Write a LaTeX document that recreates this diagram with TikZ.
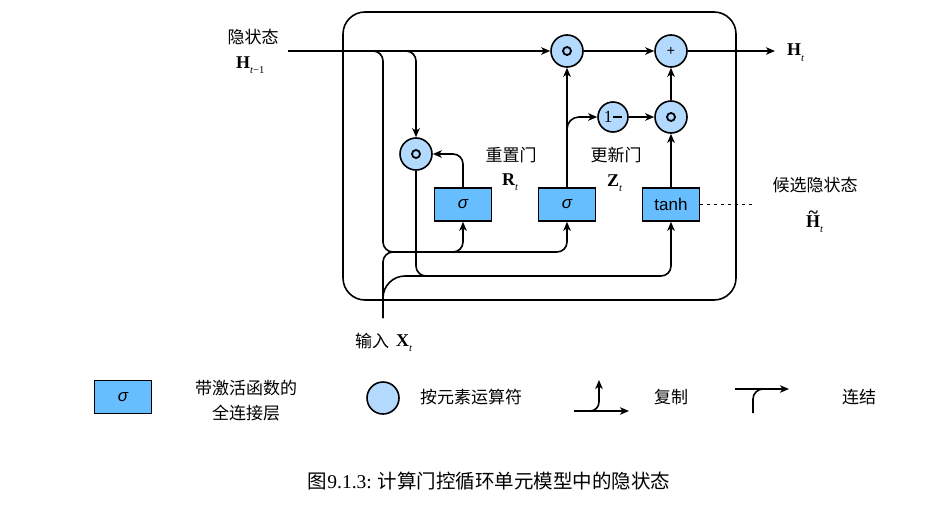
\documentclass[tikz,border=0pt]{standalone}
\usepackage{fontspec}
\setmainfont{Liberation Serif}
\newfontfamily\cjk{Noto Sans CJK SC}
\newfontfamily\tms{Liberation Serif}
\newfontfamily\lsans{Liberation Sans}
\usetikzlibrary{arrows.meta}
\definecolor{gatefill}{RGB}{102,190,255}
\definecolor{opfill}{RGB}{179,217,255}
\newcommand\bsym[2]{{\tms\bfseries #1}\raisebox{-0.3em}{\tms\fontsize{10.5}{10.5}\selectfont #2}}
\begin{document}
\begin{tikzpicture}[x=1pt,y=-1pt,
  conn/.style={line width=1.6pt},
  arr/.style={-{Stealth[length=9pt,width=7.5pt,inset=2.5pt]}},
  rc/.style={rounded corners=10pt},
  gate/.style={draw, line width=1.6pt, fill=gatefill, minimum width=57pt, minimum height=33pt, inner sep=0pt, font=\lsans\fontsize{17}{20}\selectfont},
  op/.style={circle, draw, line width=1.6pt, fill=opfill, minimum size=32pt, inner sep=0pt},
  odot/.style={op, path picture={\draw[line width=1.8pt] (path picture bounding box.center) circle (4.0pt); \fill (path picture bounding box.center) circle (1.7pt);}},
  lbl/.style={font=\cjk\fontsize{17}{25}\selectfont, inner sep=0pt},
  mth/.style={font=\fontsize{18}{20}\selectfont, inner sep=0pt},
]
\useasboundingbox (0,0) rectangle (941,511);

% frame
\draw[line width=1.6pt, rounded corners=22pt] (343,12) rectangle (736,300);

% operators and gates
\node[odot] (m1) at (567,51) {};
\node[op] (plus) at (671,51) {\lsans\fontsize{14}{14}\selectfont +};
\node[odot] (odotR) at (416,154) {};
\node[op, minimum size=30pt] (onem) at (613,117) {{\tms\fontsize{17}{17}\selectfont 1}\kern0.5pt\rule[4.6pt]{9.5pt}{2.4pt}};
\node[odot] (odot2) at (671,117) {};
\node[gate] (s1) at (463,204.5) {\itshape σ};
\node[gate] (s2) at (567,204.5) {\itshape σ};
\node[gate] (th) at (671,204.5) {tanh};

% helper coordinates
\coordinate (hin) at (288,51);
\coordinate (hout) at (775,51);
\coordinate (xin) at (383,318);
\coordinate (row1) at (383,252);
\coordinate (row1b) at (430,252);
\coordinate (row2b) at (500,276);
\coordinate (dotend) at (752,204.5);

% connectors
\draw[conn,arr] (hin) -- (m1);
\draw[conn,rc,arr] (hin) -| (row1) -| (s1.south);
\draw[conn,rc,arr] (row1b) -| (s2.south);
\draw[conn,rc] (xin) |- (row1b);
\draw[conn,rc,arr] (hin) -| (odotR.north);
\draw[conn,rc,arr] (odotR.south) |- (row2b) -| (th.south);
\draw[conn,rounded corners=22pt] (xin) |- (row2b);
\draw[conn,rc,arr] (s1.north) |- (odotR.east);
\draw[conn,arr] (s2.north) -- (m1.south);
\draw[conn,rounded corners=12pt,arr] (s2.north) |- (onem.west);
\draw[conn,arr] (onem.east) -- (odot2.west);
\draw[conn,arr] (th.north) -- (odot2.south);
\draw[conn,arr] (odot2.north) -- (plus.south);
\draw[conn,arr] (m1.east) -- (plus.west);
\draw[conn,arr] (plus.east) -- (hout);
\draw[line width=1.5pt, dash pattern=on 3pt off 4pt] (th.east) -- (dotend);

% labels
\node[lbl] (lh) at (253,37) {隐状态};
\node[mth, anchor=base west] (lhs) at (236,68) {\bsym{H}{\itshape t\upshape −1}};
\node[mth, anchor=base west] (lht) at (787,56) {\bsym{H}{\itshape t}};
\node[lbl] (lr) at (511,155) {重置门};
\node[mth, anchor=base west] (lrs) at (502,185) {\bsym{R}{\itshape t}};
\node[lbl] (lz) at (616,155) {更新门};
\node[mth, anchor=base west] (lzs) at (607,186) {\bsym{Z}{\itshape t}};
\node[lbl] (lc) at (815,185) {候选隐状态};
\node[mth, anchor=base west] (lcs) at (806,227) {{\tms\bfseries\ooalign{H\cr\hidewidth\raisebox{0.47em}{\textasciitilde}\hidewidth\cr}}\raisebox{-0.3em}{\tms\fontsize{10.5}{10.5}\selectfont\itshape t}};
\node[lbl] (lx) at (372,341) {输入};
\node[mth, anchor=base west] (lxs) at (396,346) {\bsym{X}{\itshape t}};

% legend
\node[gate] (lg1) at (123,397) {\itshape σ};
\node[lbl, align=center] (lt1) at (246,400.5) {带激活函数的\\全连接层};
\node[op] (lg2) at (383,398) {};
\node[lbl] (lt2) at (471,397) {按元素运算符};
\coordinate (cpa) at (574,411);
\coordinate (cpb) at (629,411);
\coordinate (cpc) at (599,380);
\draw[conn,arr] (cpa) -- (cpb);
\draw[conn,rounded corners=9pt,arr] (cpa) -| (cpc);
\node[lbl] (lt3) at (671,397) {复制};
\coordinate (cta) at (735,389);
\coordinate (ctb) at (789,389);
\coordinate (ctm) at (770,389);
\coordinate (ctc) at (753,413);
\draw[conn,arr] (cta) -- (ctb);
\draw[conn,rounded corners=10pt] (ctc) |- (ctm);
\node[lbl] (lt4) at (859,397) {连结};

% caption
\node[font=\cjk\fontsize{19.5}{22}\selectfont, inner sep=0pt] (cap) at (489,481) {图{\tms 9.1.3:} 计算门控循环单元模型中的隐状态};
\end{tikzpicture}
\end{document}
